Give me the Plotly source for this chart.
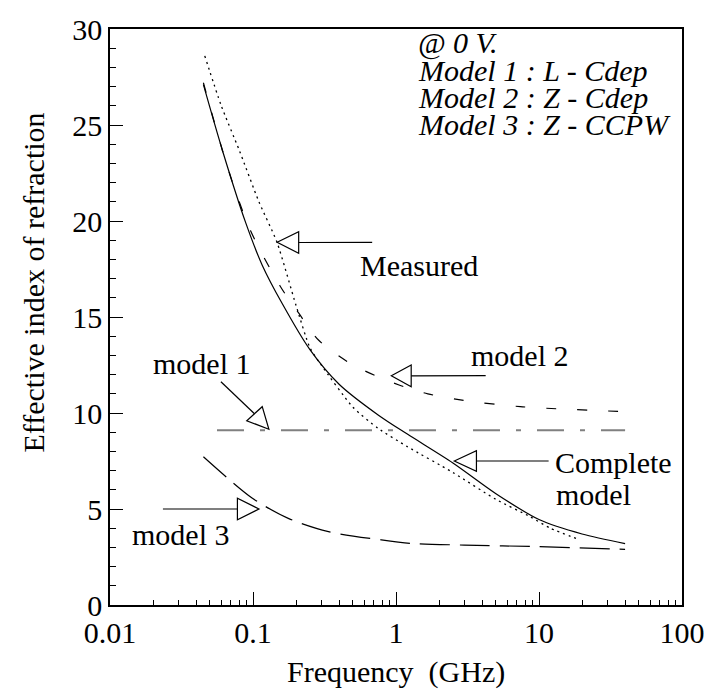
import plotly.graph_objects as go

# ---------------- data ----------------
freq_complete = [0.045, 0.061, 0.089, 0.116, 0.16, 0.25, 0.4, 0.75, 1.2, 2.5, 5, 10, 20, 40]
n_complete = [27.1, 23.7, 19.9, 17.7, 15.7, 13.3, 11.5, 9.9, 8.9, 7.4, 5.8, 4.45, 3.7, 3.2]

freq_measured = [0.046, 0.06, 0.08, 0.11, 0.147, 0.2, 0.25, 0.3, 0.5, 0.75, 1.2, 2.5, 5, 8.66, 12, 19.3]
n_measured = [28.6, 26.0, 23.7, 21.0, 18.9, 15.6, 13.4, 12.5, 10.3, 9.2, 8.25, 6.9, 5.5, 4.6, 4.0, 3.39]

freq_model2 = [0.045, 0.067, 0.096, 0.155, 0.209, 0.287, 0.5, 1.05, 1.67, 2.82, 7.4, 40]
n_model2 = [27.2, 22.7, 19.5, 16.6, 15.2, 13.8, 12.5, 11.46, 11.0, 10.68, 10.33, 10.07]

freq_model1 = [0.056, 40]
n_model1 = [9.1, 9.1]

freq_model3 = [0.045, 0.099, 0.178, 0.337, 0.79, 1.27, 3, 9.6, 40]
n_model3 = [7.72, 5.56, 4.5, 3.82, 3.39, 3.21, 3.12, 3.04, 2.9]

x_major = [0.01, 0.1, 1, 10, 100]
x_major_text = ["0.01", "0.1", "1", "10", "100"]
x_minor = [m * d for d in (0.01, 0.1, 1, 10) for m in range(2, 10)]

legend_lines = ["@ 0 V.", "Model 1 : L - Cdep", "Model 2 : Z - Cdep", "Model 3 : Z - CCPW"]

# ---------------- figure ----------------
W, H = 717, 694
L, R, T, B = 110, 31, 29, 89
PW, PH = W - L - R, H - T - B
SERIF = "Liberation Serif"
FS = 30


def px(X):
    return (X - L) / PW


def py(Y):
    return (T + PH - Y) / PH


fig = go.Figure()

fig.add_trace(go.Scatter(x=freq_complete, y=n_complete, mode="lines",
                         line=dict(color="black", width=1.2, shape="spline", smoothing=0.8),
                         name="Complete model"))
fig.add_trace(go.Scatter(x=freq_measured, y=n_measured, mode="lines",
                         line=dict(color="black", width=1.3, dash="2px,4px", shape="spline", smoothing=0.6),
                         name="Measured"))
fig.add_trace(go.Scatter(x=freq_model2, y=n_model2, mode="lines",
                         line=dict(color="black", width=1.2, dash="10px,21px", shape="spline", smoothing=0.8),
                         name="model 2"))
fig.add_trace(go.Scatter(x=freq_model3, y=n_model3, mode="lines",
                         line=dict(color="black", width=1.2, dash="30px,10px", shape="spline", smoothing=0.8),
                         name="model 3"))
# model 1 drawn on the overlay axes (identical ranges) that carry the minor ticks
fig.add_trace(go.Scatter(x=freq_model1, y=n_model1, mode="lines", xaxis="x2", yaxis="y2",
                         line=dict(color="#808080", width=2, dash="27px,16px,5px,16px"),
                         name="model 1"))

shapes = []


def arrow(tip, base_a, base_b, tail):
    path = "M {} {} L {} {} L {} {} Z".format(px(tip[0]), py(tip[1]), px(base_a[0]), py(base_a[1]),
                                             px(base_b[0]), py(base_b[1]))
    shapes.append(dict(type="path", path=path, xref="paper", yref="paper",
                       line=dict(color="black", width=1.2), fillcolor="rgba(0,0,0,0)"))
    mx = (base_a[0] + base_b[0]) / 2
    my = (base_a[1] + base_b[1]) / 2
    shapes.append(dict(type="line", xref="paper", yref="paper",
                       x0=px(mx), y0=py(my), x1=px(tail[0]), y1=py(tail[1]),
                       line=dict(color="black", width=1.2)))


arrow((278.3, 242.3), (300, 231.7), (300, 253.3), (374, 242.3))      # Measured
arrow((393.3, 375.7), (413.3, 365), (413.3, 386.7), (488.3, 375.7))  # model 2
arrow((456.7, 461), (479, 450.7), (479, 471.3), (551.7, 461))        # Complete model
arrow((260, 509), (238.3, 498.3), (238.3, 519.7), (163.3, 509))      # model 3
arrow((270, 429.3), (247.7, 420.7), (263.3, 406.7), (221.7, 381.7))  # model 1

annotations = []


def label(text, X, Y, xanchor="left", italic=False, angle=0, size=FS):
    annotations.append(dict(text=("<i>%s</i>" % text) if italic else text,
                            x=px(X), y=py(Y), xref="paper", yref="paper",
                            xanchor=xanchor, yanchor="middle", showarrow=False,
                            textangle=angle,
                            font=dict(family=SERIF, size=size, color="black")))


label("Measured", 360, 265)
label("model 2", 472, 356)
label("model 1", 151, 363)
label("Complete", 556, 462)
label("model", 557, 494)
label("model 3", 130, 534)
for i, t in enumerate(legend_lines):
    label(t, 418, 43 + 27.3 * i, italic=True)

label("Frequency  (GHz)", L + PW / 2, 672, xanchor="center")
label("Effective index of refraction", 32, 283, xanchor="center", angle=-90)

fig.update_layout(
    width=W, height=H,
    margin=dict(l=L, r=R, t=T, b=B, pad=0),
    paper_bgcolor="white", plot_bgcolor="white",
    showlegend=False,
    shapes=shapes, annotations=annotations,
    xaxis=dict(type="log", range=[-2, 2], showgrid=False, zeroline=False,
               showline=True, linecolor="black", linewidth=1.5, mirror=True,
               tickmode="array", tickvals=x_major, ticktext=x_major_text,
               ticks="inside", ticklen=13, tickwidth=1, tickcolor="black",
               tickfont=dict(family=SERIF, size=FS, color="black")),
    yaxis=dict(range=[0, 30], showgrid=False, zeroline=False,
               showline=True, linecolor="black", linewidth=1.5, mirror=True,
               tickmode="linear", tick0=0, dtick=5,
               ticks="inside", ticklen=13, tickwidth=1, tickcolor="black",
               tickfont=dict(family=SERIF, size=FS, color="black")),
    xaxis2=dict(type="log", range=[-2, 2], overlaying="x", anchor="y2", side="bottom",
                showgrid=False, zeroline=False, showline=False, showticklabels=False,
                tickmode="array", tickvals=x_minor,
                ticks="inside", ticklen=5, tickwidth=1, tickcolor="black"),
    yaxis2=dict(range=[0, 30], overlaying="y", anchor="x2", side="left",
                showgrid=False, zeroline=False, showline=False, showticklabels=False,
                tickmode="linear", tick0=0, dtick=1,
                ticks="inside", ticklen=6, tickwidth=1, tickcolor="black"),
)

fig.write_html("out.html")
